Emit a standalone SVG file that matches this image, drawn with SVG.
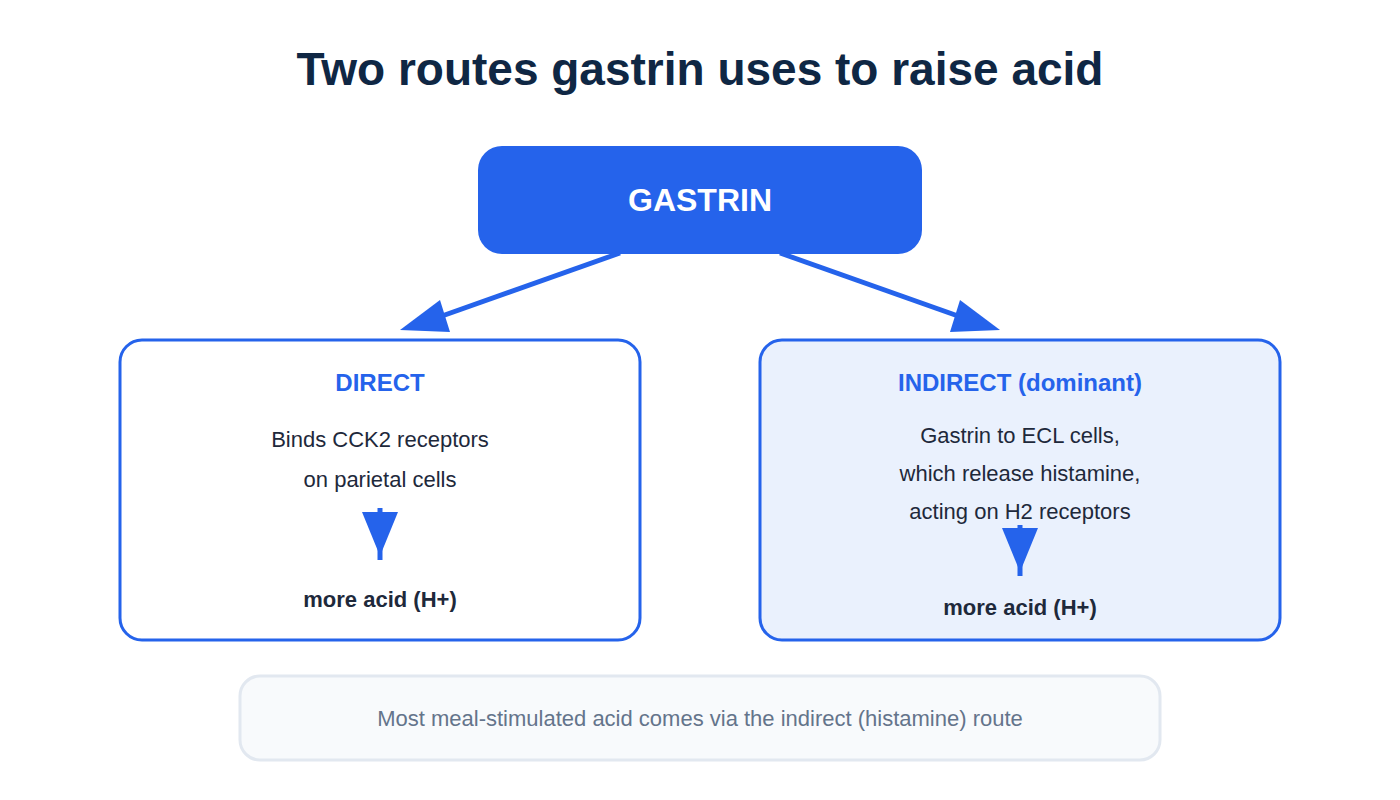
<svg xmlns="http://www.w3.org/2000/svg" width="1400" height="800" viewBox="0 0 1400 800">
<style>
text{font-family:"Liberation Sans",Arial,sans-serif;text-anchor:middle}
.h{font-weight:bold;font-size:24px;fill:#2563eb}
.b{font-size:22px;fill:#1e293b}
.r{font-weight:bold;font-size:22px;fill:#1e293b}
.ln{stroke:#2563eb;stroke-width:5;fill:none}
.ah{fill:#2563eb}
</style>
<rect width="1400" height="800" fill="#fff"/>
<text x="700" y="85" style="font-size:46px;font-weight:bold;fill:#0f2744">Two routes gastrin uses to raise acid</text>
<g id="gastrin"><rect x="478" y="146" width="444" height="108" rx="24" fill="#2563eb"/><text x="700" y="211" style="font-size:32px;font-weight:bold;fill:#fff">GASTRIN</text></g>
<g id="direct"><rect x="120" y="340" width="520" height="300" rx="22" fill="#fff" stroke="#2563eb" stroke-width="3"/>
<text class="h" x="380" y="391">DIRECT</text>
<text class="b" x="380" y="447">Binds CCK2 receptors</text><text class="b" x="380" y="487">on parietal cells</text>
<line class="ln" x1="380" y1="508" x2="380" y2="560"/><polygon class="ah" points="362,512 398,512 380,556"/>
<text class="r" x="380" y="607">more acid (H+)</text></g>
<g id="indirect"><rect x="760" y="340" width="520" height="300" rx="22" fill="#eaf1fd" stroke="#2563eb" stroke-width="3"/>
<text class="h" x="1020" y="391">INDIRECT (dominant)</text>
<text class="b" x="1020" y="443">Gastrin to ECL cells,</text><text class="b" x="1020" y="481">which release histamine,</text><text class="b" x="1020" y="519">acting on H2 receptors</text>
<line class="ln" x1="1020" y1="525" x2="1020" y2="576"/><polygon class="ah" points="1002,528 1038,528 1020,572"/>
<text class="r" x="1020" y="615">more acid (H+)</text></g>
<g id="note"><rect x="240" y="676" width="920" height="84" rx="20" fill="#f8fafc" stroke="#e2e8f0" stroke-width="3"/><text x="700" y="726" style="font-size:22px;fill:#64748b">Most meal-stimulated acid comes via the indirect (histamine) route</text></g>
<g id="connectors">
<line class="ln" x1="620" y1="253" x2="425" y2="322"/><polygon class="ah" points="400,330 440,300 450,332"/>
<line class="ln" x1="780" y1="253" x2="975" y2="322"/><polygon class="ah" points="1000,330 960,300 950,332"/>
</g>
</svg>
